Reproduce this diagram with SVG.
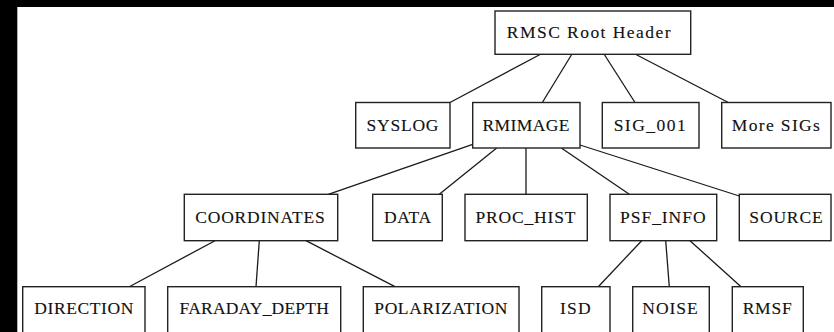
<svg xmlns="http://www.w3.org/2000/svg" width="834" height="332" viewBox="0 0 834 332">
<style>
.box{fill:#fff;stroke:#222;stroke-width:1.4}
.edge{stroke:#1a1a1a;stroke-width:1.3;fill:none}
</style>
<rect x="0" y="0" width="834" height="332" fill="#fff"/>
<rect x="0" y="0" width="834" height="7" fill="#000"/>
<rect x="0" y="0" width="17.3" height="332" fill="#000"/>
<g id="connectors">
<line class="edge" x1="541" y1="54" x2="450" y2="102.5"/>
<line class="edge" x1="572" y1="54" x2="542.3" y2="102.5"/>
<line class="edge" x1="604" y1="54" x2="635" y2="102.5"/>
<line class="edge" x1="635" y1="54" x2="728.3" y2="102.5"/>
<line class="edge" x1="472.7" y1="144.3" x2="328.3" y2="194.3"/>
<line class="edge" x1="496.7" y1="148" x2="439.3" y2="194.3"/>
<line class="edge" x1="526" y1="148" x2="526" y2="194.3"/>
<line class="edge" x1="561.3" y1="148" x2="629.3" y2="194.3"/>
<line class="edge" x1="580" y1="145" x2="739.3" y2="196"/>
<line class="edge" x1="215" y1="240.7" x2="129.3" y2="286.7"/>
<line class="edge" x1="259.3" y1="240.7" x2="256" y2="286.7"/>
<line class="edge" x1="306" y1="240.7" x2="395" y2="286.7"/>
<line class="edge" x1="641.7" y1="240.7" x2="598.3" y2="286.7"/>
<line class="edge" x1="665.7" y1="240.7" x2="669.3" y2="286.7"/>
<line class="edge" x1="690" y1="240.7" x2="741" y2="286.7"/>
</g>
<g font-family="Liberation Serif, serif" font-size="17.5" fill="#111" stroke="#111" stroke-width="0.12" text-anchor="middle">
<g id="root"><rect class="box" x="495" y="11" width="195.7" height="43.3"/><text x="589.4" y="37.7" letter-spacing="1.45">RMSC Root Header</text></g>
<g id="syslog"><rect class="box" x="355.7" y="102.5" width="94.3" height="45.5"/><text x="402.9" y="130.7" letter-spacing="0.75">SYSLOG</text></g>
<g id="rmimage"><rect class="box" x="472.7" y="102.5" width="107.3" height="45.5"/><text x="526.2" y="130.7" letter-spacing="0.4">RMIMAGE</text></g>
<g id="sig001"><rect class="box" x="602.3" y="102.5" width="96.7" height="45.5"/><text x="650.5" y="130.7" letter-spacing="1.5">SIG_001</text></g>
<g id="moresigs"><rect class="box" x="721.7" y="102.5" width="109.3" height="45.5"/><text x="776.5" y="130.7" letter-spacing="1.35">More SIGs</text></g>
<g id="coordinates"><rect class="box" x="184.3" y="194.3" width="153.4" height="46.4"/><text x="260.4" y="222.7" letter-spacing="0.8">COORDINATES</text></g>
<g id="data"><rect class="box" x="372.7" y="194.3" width="69.6" height="46.4"/><text x="407.8" y="222.7" letter-spacing="0.6">DATA</text></g>
<g id="prochist"><rect class="box" x="465" y="194.3" width="122.3" height="46.4"/><text x="525.9" y="222.7" letter-spacing="0.85">PROC_HIST</text></g>
<g id="psfinfo"><rect class="box" x="610" y="194.3" width="106.7" height="46.4"/><text x="663.3" y="222.7" letter-spacing="0.95">PSF_INFO</text></g>
<g id="source"><rect class="box" x="739.3" y="194.3" width="91.7" height="46.4"/><text x="786.4" y="222.7" letter-spacing="0.85">SOURCE</text></g>
<g id="direction"><rect class="box" x="22.7" y="286.7" width="122.3" height="46.4"/><text x="84.1" y="314" letter-spacing="0.6">DIRECTION</text></g>
<g id="faraday"><rect class="box" x="167.7" y="286.7" width="173" height="46.4"/><text x="254.3" y="314" letter-spacing="0.2">FARADAY_DEPTH</text></g>
<g id="polarization"><rect class="box" x="363.3" y="286.7" width="155.7" height="46.4"/><text x="441.1" y="314" letter-spacing="0.6">POLARIZATION</text></g>
<g id="isd"><rect class="box" x="541.7" y="286.7" width="68.3" height="46.4"/><text x="576" y="314" letter-spacing="1.2">ISD</text></g>
<g id="noise"><rect class="box" x="632.7" y="286.7" width="76.6" height="46.4"/><text x="670.5" y="314" letter-spacing="0.95">NOISE</text></g>
<g id="rmsf"><rect class="box" x="732.3" y="286.7" width="71" height="46.4"/><text x="767.6" y="314" letter-spacing="0.8">RMSF</text></g>
</g>
</svg>
